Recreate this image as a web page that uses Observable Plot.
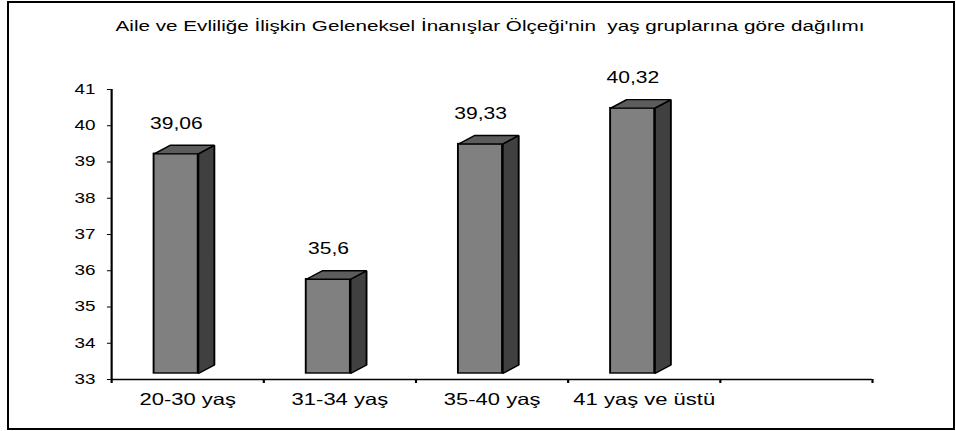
<!DOCTYPE html>
<html>
<head>
<meta charset="utf-8">
<script src="https://cdn.jsdelivr.net/npm/d3@7"></script>
<script src="https://cdn.jsdelivr.net/npm/@observablehq/plot@0.6"></script>
<style>
  html, body { margin: 0; padding: 0; background: #fff; }
  body { width: 956px; height: 431px; position: relative; overflow: hidden; font-family: "Liberation Sans", Arial, sans-serif; }
  #frame { position: absolute; left: 7px; top: 1px; width: 948px; height: 429px; box-sizing: border-box; border: 2px solid #000; }
  #wrap { position: absolute; left: 0; top: 0; width: 708px; transform: scaleX(1.35); transform-origin: 0 0; }
  #title { position: relative; height: 40px; }
  #title span { position: absolute; left: 0; width: 726px; top: 18px; text-align: center; font-size: 15.3px; line-height: 16px; white-space: pre; color: #000; }
  #chart svg text { font-weight: normal; }
</style>
</head>
<body>
<div id="frame"></div>
<div id="wrap">
  <div id="title"><span>Aile ve Evliliğe İlişkin Geleneksel İnanışlar Ölçeği'nin  yaş gruplarına göre dağılımı</span></div>
  <div id="chart"></div>
</div>
<script>
const categories = ["20-30 yaş", "31-34 yaş", "35-40 yaş", "41 yaş ve üstü"];
const values = [39.06, 35.6, 39.33, 40.32];
const valueLabels = ["39,06", "35,6", "39,33", "40,32"];
const yTicks = [33, 34, 35, 36, 37, 38, 39, 40, 41];
const slotCount = 5;

// geometry of the pseudo-3D columns (in data units of the scales)
const FRONT_L = 0.28, FRONT_R = 0.57, DEPTH_X = 0.105, DEPTH_Y = 0.235, LIFT = -6;

const boxes = values.map((v, i) => ({i, v, x1: i + FRONT_L, x2: i + FRONT_R, label: valueLabels[i]}));
const sides = boxes.flatMap(b => [
  {k: b.i, x: b.x2, y: 33},
  {k: b.i, x: b.x2 + DEPTH_X, y: 33 + DEPTH_Y},
  {k: b.i, x: b.x2 + DEPTH_X, y: b.v + DEPTH_Y},
  {k: b.i, x: b.x2, y: b.v}
]);
const tops = boxes.flatMap(b => [
  {k: b.i, x: b.x1, y: b.v},
  {k: b.i, x: b.x1 + DEPTH_X, y: b.v + DEPTH_Y},
  {k: b.i, x: b.x2 + DEPTH_X, y: b.v + DEPTH_Y},
  {k: b.i, x: b.x2, y: b.v}
]);
const boundaries = d3.range(slotCount + 1);
const labelTicks = categories.map((c, i) => i + 0.5);

const chart = Plot.plot({
  width: 708,
  height: 391,
  marginTop: 49,
  marginBottom: 52,
  marginLeft: 82.2,
  marginRight: 62.2,
  style: {fontFamily: "'Liberation Sans', Arial, sans-serif", color: "#000", background: "transparent"},
  x: {type: "linear", domain: [0, slotCount]},
  y: {domain: [33, 41]},
  marks: [
    Plot.rect(boxes, {x1: "x1", x2: "x2", y1: 33, y2: "v", dy: LIFT, fill: "#808080", stroke: "#000", strokeWidth: 1.4}),
    Plot.line(sides, {x: "x", y: "y", z: "k", curve: "linear-closed", dy: LIFT, fill: "#404040", stroke: "#000", strokeWidth: 1.4, strokeLinejoin: "miter"}),
    Plot.line(tops, {x: "x", y: "y", z: "k", curve: "linear-closed", dy: LIFT, fill: "#5c5c5c", stroke: "#000", strokeWidth: 1.4, strokeLinejoin: "miter"}),
    Plot.text(boxes, {x: d => d.i + 0.425, y: "v", text: "label", dy: -36, fontSize: 15.6, fill: "#000"}),
    Plot.ruleY([33], {stroke: "#000", strokeWidth: 1.6}),
    Plot.ruleX([0], {y1: 33, y2: 41, stroke: "#000", strokeWidth: 1.6}),
    Plot.ruleX(boundaries, {x: d => d, y1: 33, y2: 33, insetBottom: -4, stroke: "#000", strokeWidth: 1.6}),
    Plot.axisY({ticks: yTicks, tickSize: 3, tickPadding: 9, fontSize: 14, label: null}),
    Plot.axisX({ticks: labelTicks, tickSize: 0, tickPadding: 14, fontSize: 16.3, label: null, tickFormat: d => categories[Math.floor(d)]})
  ]
});
document.getElementById("chart").appendChild(chart);
</script>
</body>
</html>
